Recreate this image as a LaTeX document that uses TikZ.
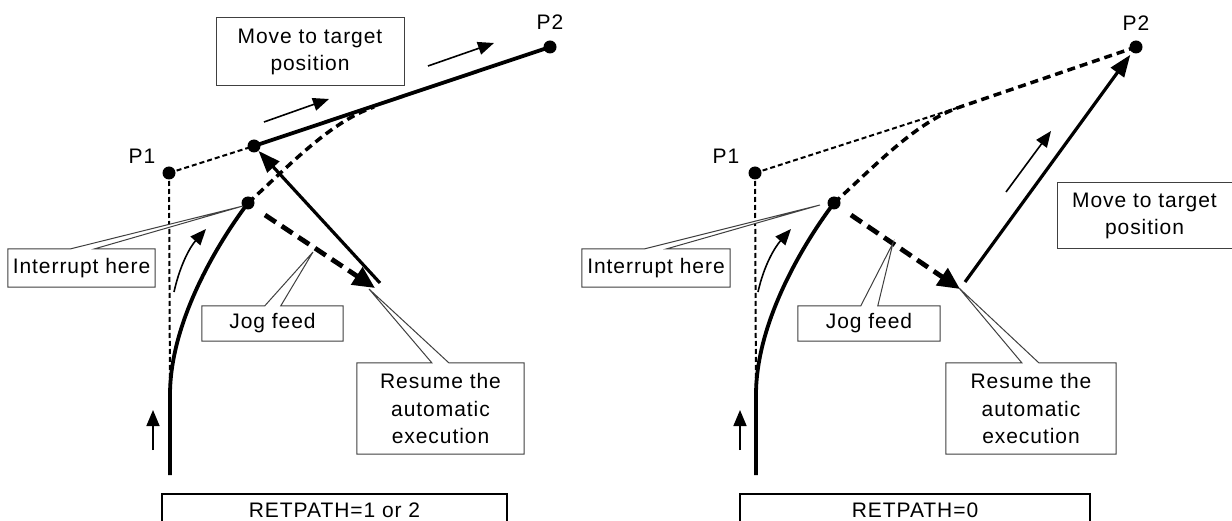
\documentclass[tikz,border=0pt]{standalone}
\usepackage{fontspec}
\setmainfont{Liberation Sans}[LetterSpace=4.5]
\usetikzlibrary{arrows.meta,calc}
\newcommand\calloutbox[4]{\draw[cbox] (#1.north west) -- ($(#1.north west)+(#2,0)$) -- (#4) -- ($(#1.north west)+(#3,0)$) -- (#1.north east) -- (#1.south east) -- (#1.south west) -- cycle;}
\begin{document}
\begin{tikzpicture}[x=1pt,y=-1pt,
  txt/.style={font=\fontsize{21}{27.5}\selectfont, align=center, inner sep=0pt},
  cbox/.style={draw=black!75, line width=1pt, fill=white},
  dot/.style={circle, fill=black, inner sep=0pt, minimum size=13pt},
  pathsolid/.style={line width=3.8pt},
  pathdash/.style={line width=3.5pt, dash pattern=on 8pt off 5pt},
  thindash/.style={line width=2pt, dash pattern=on 5pt off 3pt},
  jogarrow/.style={line width=4.8pt, dash pattern=on 13pt off 7pt, -{Triangle[length=22pt,width=20pt]}},
  movearrow/.style={line width=3.2pt, -{Triangle[length=22pt,width=16pt]}},
  dirarrow/.style={line width=1.6pt, -{Triangle[length=16pt,width=13pt]}},
  retbox/.style={draw=black, line width=2pt, fill=white},
]
\useasboundingbox (0,0) rectangle (1232,521);
\clip (0,0) rectangle (1232,521);

% ================= LEFT PANEL =================
\node[dot] (P1l) at (169,173) {};
\node[dot] (Al) at (254,146) {};
\node[dot] (Il) at (248,203) {};
\node[dot] (P2l) at (550,47) {};
\node[txt] (P1lt) at (142,156) {P1};
\node[txt] (P2lt) at (550,22) {P2};
\coordinate (Bl) at (170,475);
\coordinate (Vl) at (170,395);
\coordinate (Ml) at (374,107);

\draw[thindash] (P1l.center) -- (Al.center);
\draw[thindash] (P1l.center) -- (Vl);
\draw[pathsolid] (Bl) -- (Vl) .. controls (170,320) and (220,240) .. (Il.center);
\draw[pathdash] (Il.center) .. controls (290,165) and (330,122) .. (Ml);
\draw[pathsolid] (Al.center) -- (P2l.center);

\coordinate (jl0) at (265,215);
\coordinate (jl1) at (375,288);
\draw[jogarrow] (jl0) -- (jl1);
\coordinate (rl0) at (380,283);
\draw[movearrow] (rl0) -- (Al);

\coordinate (ul0) at (153,450); \coordinate (ul1) at (153,410);
\draw[dirarrow] (ul0) -- (ul1);
\coordinate (cl0) at (174,292); \coordinate (cl1) at (206,229);
\draw[dirarrow] (cl0) .. controls (180,265) and (190,247) .. (cl1);
\coordinate (ml0) at (264,122); \coordinate (ml1) at (329,99);
\draw[dirarrow] (ml0) -- (ml1);
\coordinate (tl0) at (428,66); \coordinate (tl1) at (494,43);
\draw[dirarrow] (tl0) -- (tl1);

\node[txt, draw=black!75, line width=1pt, fill=white, minimum width=188pt, minimum height=68pt] (movl) at (310,52) {Move to target\\position};

\node[txt, minimum width=147pt, minimum height=38pt] (intl) at (81.5,268) {};
\coordinate (intlt) at (243,206);
\calloutbox{intl}{63}{87}{intlt}
\node[txt] at (intl) {Interrupt here};

\node[txt, minimum width=141pt, minimum height=35pt] (jogl) at (272.5,323.5) {};
\coordinate (joglt) at (313,252);
\calloutbox{jogl}{63}{79}{joglt}
\node[txt] at (jogl) {Jog feed};

\node[txt, minimum width=167pt, minimum height=91pt] (resl) at (440.5,408.5) {};
\coordinate (reslt) at (369,289);
\calloutbox{resl}{75}{92}{reslt}
\node[txt] at (resl) {Resume the\\automatic\\execution};

\node[txt, retbox, minimum width=345pt, minimum height=32pt] (retl) at (334.5,510) {RETPATH=1 or 2};

% ================= RIGHT PANEL =================
\node[dot] (P1r) at (755,173) {};
\node[dot] (Ir) at (834,203) {};
\node[dot] (P2r) at (1136,47) {};
\node[txt] (P1rt) at (726,156) {P1};
\node[txt] (P2rt) at (1136,23) {P2};
\coordinate (Br) at (756,475);
\coordinate (Vr) at (756,395);
\coordinate (Mr) at (960,107);

\draw[thindash] (P1r.center) -- (Mr);
\draw[thindash] (P1r.center) -- (Vr);
\draw[pathsolid] (Br) -- (Vr) .. controls (756,320) and (806,240) .. (Ir.center);
\draw[pathdash] (Ir.center) .. controls (876,165) and (916,122) .. (Mr) -- (P2r.center);

\coordinate (jr0) at (851,215);
\coordinate (jr1) at (960,289);
\draw[jogarrow] (jr0) -- (jr1);
\coordinate (rr0) at (965,282);
\draw[movearrow, shorten >=3pt] (rr0) -- (P2r);

\coordinate (ur0) at (740,450); \coordinate (ur1) at (740,410);
\draw[dirarrow] (ur0) -- (ur1);
\coordinate (cr0) at (758,292); \coordinate (cr1) at (791,229);
\draw[dirarrow] (cr0) .. controls (764,265) and (775,247) .. (cr1);
\coordinate (mr0) at (1006,192); \coordinate (mr1) at (1051,131);
\draw[dirarrow] (mr0) -- (mr1);

\node[txt, draw=black!75, line width=1pt, fill=white, minimum width=175pt, minimum height=66pt] (movr) at (1144.5,216) {Move to target\\position};

\node[txt, minimum width=148pt, minimum height=38pt] (intr) at (656,268) {};
\coordinate (intrt) at (820,205);
\calloutbox{intr}{63}{85}{intrt}
\node[txt] at (intr) {Interrupt here};

\node[txt, minimum width=142pt, minimum height=35pt] (jogr) at (869,323.5) {};
\coordinate (jogrt) at (893,243);
\calloutbox{jogr}{63}{80}{jogrt}
\node[txt] at (jogr) {Jog feed};

\node[txt, minimum width=170pt, minimum height=91pt] (resr) at (1031,408.5) {};
\coordinate (resrt) at (959,288);
\calloutbox{resr}{76}{93}{resrt}
\node[txt] at (resr) {Resume the\\automatic\\execution};

\node[txt, retbox, minimum width=350pt, minimum height=32pt] (retr) at (915,510) {RETPATH=0};
\end{tikzpicture}
\end{document}
